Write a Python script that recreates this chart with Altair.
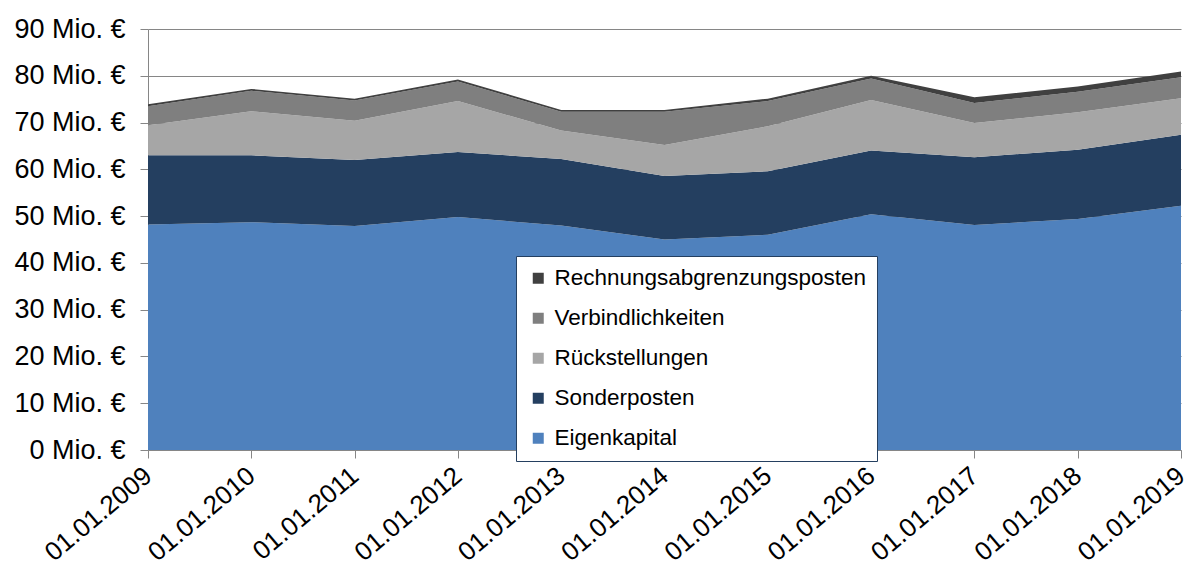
import altair as alt
import pandas as pd

dates = ["01.01.2009", "01.01.2010", "01.01.2011", "01.01.2012", "01.01.2013",
         "01.01.2014", "01.01.2015", "01.01.2016", "01.01.2017", "01.01.2018",
         "01.01.2019"]

eigenkapital = [48.2, 48.7, 47.9, 49.8, 48.0, 45.0, 46.0, 50.4, 48.1, 49.4, 52.2]
sonderposten = [14.8, 14.3, 14.1, 13.9, 14.2, 13.6, 13.6, 13.6, 14.5, 14.8, 15.2]
rueckstellungen = [6.4, 9.4, 8.4, 10.9, 6.1, 6.6, 9.6, 10.8, 7.3, 8.0, 7.8]
verbindlichkeiten = [4.1, 4.4, 4.3, 4.2, 4.0, 7.1, 5.4, 4.6, 4.3, 4.4, 4.5]
rechnungsabgrenzung = [0.4, 0.4, 0.4, 0.4, 0.4, 0.4, 0.5, 0.6, 1.2, 1.1, 1.2]

legend_names = ["Rechnungsabgrenzungsposten", "Verbindlichkeiten", "Rückstellungen",
                "Sonderposten", "Eigenkapital"]
legend_colors = ["#404040", "#7F7F7F", "#A6A6A6", "#243F60", "#4F81BD"]

series = [
    ("Eigenkapital", eigenkapital),
    ("Sonderposten", sonderposten),
    ("Rückstellungen", rueckstellungen),
    ("Verbindlichkeiten", verbindlichkeiten),
    ("Rechnungsabgrenzungsposten", rechnungsabgrenzung),
]

rows = []
for rank, (name, vals) in enumerate(series):
    for d, v in zip(dates, vals):
        rows.append({"Datum": d, "Wert": v, "Serie": name, "rang": rank})
df = pd.DataFrame(rows)

FONT = "Liberation Sans"
GRAY = "#868686"

chart = alt.Chart(df).mark_area(interpolate="linear").encode(
    x=alt.X("Datum:O", sort=dates, title=None,
            scale=alt.Scale(type="point", padding=0),
            axis=alt.Axis(labelAngle=-40, labelAlign="right", labelBaseline="middle",
                          labelFontSize=26, labelFont=FONT, labelColor="#000000",
                          tickSize=8, tickColor=GRAY, domainColor=GRAY,
                          labelPadding=14, grid=False, labelOverlap=False)),
    y=alt.Y("Wert:Q", stack="zero", title=None,
            scale=alt.Scale(domain=[0, 90], nice=False),
            axis=alt.Axis(values=list(range(0, 91, 10)),
                          labelExpr="datum.value + ' Mio. €'",
                          labelFontSize=27, labelFont=FONT, labelColor="#000000",
                          tickSize=8, tickColor=GRAY, domainColor=GRAY,
                          gridColor=GRAY, grid=True, labelPadding=15)),
    color=alt.Color("Serie:N",
                    scale=alt.Scale(domain=legend_names, range=legend_colors),
                    legend=alt.Legend(title=None, orient="none", legendX=368, legendY=227,
                                      fillColor="white", strokeColor="#243F60",
                                      padding=11, labelFontSize=22.5, labelFont=FONT,
                                      labelColor="#000000", symbolType="square",
                                      symbolSize=121, symbolStrokeWidth=0,
                                      rowPadding=17, labelLimit=0, labelOffset=5)),
    order=alt.Order("rang:Q"),
).properties(
    width=1033, height=421,
    autosize=alt.AutoSizeParams(type="none"),
    padding={"left": 140, "top": 21, "right": 10, "bottom": 122},
).configure_view(stroke=None)

chart.save("out.html", embed_options={"renderer": "svg", "actions": False})
